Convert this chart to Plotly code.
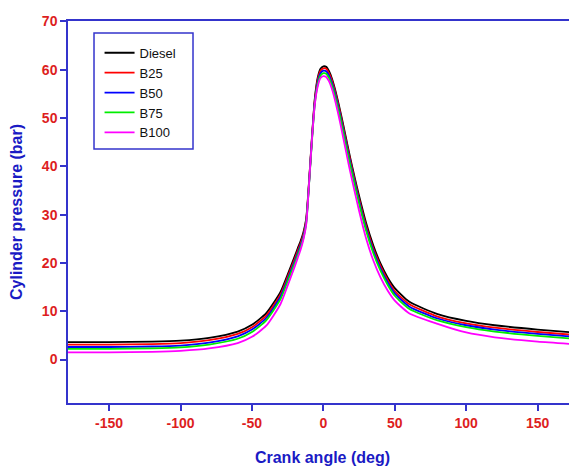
import plotly.graph_objects as go

# Crank angle (deg)
angles = [-180, -150, -120, -100, -80, -60, -50, -40, -30, -25, -20, -18, -16, -14, -12, -10, -8, -6, -4, -2,
          0, 2, 4, 6, 8, 10, 12, 14, 16, 18, 20, 22, 25, 30, 35, 40, 45, 50, 60, 80, 100, 120, 150, 180]

# Cylinder pressure (bar)
diesel = [3.6, 3.6, 3.7, 3.9, 4.5, 5.8, 7.2, 9.6, 14.0, 17.6, 21.4, 23.0, 24.5, 26.3, 29.2, 37.0, 46.0, 54.0, 58.3, 60.2,
          60.7, 60.6, 59.7, 58.2, 56.2, 53.8, 51.2, 48.5, 45.7, 42.9, 40.2, 37.6, 33.9, 28.2, 23.6, 19.9, 17.0, 14.8, 12.0, 9.4, 8.0, 7.1, 6.2, 5.5]
b25 = [3.1, 3.1, 3.2, 3.4, 4.0, 5.3, 6.7, 9.1, 13.5, 17.1, 20.9, 22.5, 24.0, 25.9, 28.9, 36.8, 45.8, 53.7, 57.9, 59.8,
       60.3, 60.2, 59.3, 57.8, 55.8, 53.4, 50.8, 48.0, 45.2, 42.4, 39.7, 37.1, 33.3, 27.6, 23.0, 19.4, 16.5, 14.2, 11.5, 8.9, 7.5, 6.6, 5.7, 5.0]
b50 = [2.6, 2.6, 2.7, 2.9, 3.5, 4.8, 6.2, 8.6, 13.0, 16.6, 20.4, 22.0, 23.6, 25.5, 28.5, 36.5, 45.5, 53.3, 57.4, 59.3,
       59.8, 59.7, 58.8, 57.3, 55.3, 52.9, 50.3, 47.5, 44.7, 41.9, 39.2, 36.6, 32.8, 27.1, 22.5, 18.9, 16.0, 13.7, 11.0, 8.5, 7.1, 6.2, 5.3, 4.6]
b75 = [2.2, 2.2, 2.3, 2.5, 3.1, 4.3, 5.7, 8.1, 12.5, 16.2, 20.0, 21.6, 23.2, 25.1, 28.2, 36.3, 45.2, 52.9, 56.9, 58.8,
       59.3, 59.2, 58.3, 56.8, 54.8, 52.4, 49.8, 47.0, 44.2, 41.4, 38.7, 36.1, 32.3, 26.6, 22.0, 18.4, 15.5, 13.2, 10.5, 8.1, 6.7, 5.8, 4.9, 4.2]
b100 = [1.5, 1.5, 1.6, 1.8, 2.3, 3.4, 4.7, 7.0, 11.5, 15.3, 19.3, 21.0, 22.7, 24.8, 28.0, 36.5, 45.5, 52.8, 56.5, 58.3,
        58.7, 58.5, 57.6, 56.0, 53.9, 51.4, 48.7, 45.8, 42.9, 40.0, 37.3, 34.7, 30.8, 25.0, 20.5, 17.0, 14.3, 12.2, 9.6, 7.4, 5.6, 4.6, 3.7, 3.1]

series_names = ["Diesel", "B25", "B50", "B75", "B100"]
series_values = [diesel, b25, b50, b75, b100]
series_colors = ["#000000", "#ff0000", "#0000ff", "#00ee00", "#ff00ff"]

x_ticks = [-150, -100, -50, 0, 50, 100, 150]
y_ticks = [0, 10, 20, 30, 40, 50, 60, 70]

AXIS_BLUE = "#3434cc"
TITLE_BLUE = "#1a1ac4"
TICK_RED = "#dd1e1e"
FONT = "Liberation Sans, Arial, sans-serif"

fig = go.Figure()
for name, vals, col in zip(series_names, series_values, series_colors):
    fig.add_trace(go.Scatter(
        x=angles, y=vals, mode="lines", name=name,
        line=dict(color=col, width=1.8, shape="spline", smoothing=0.6),
    ))

# legend frame (drawn separately to get the wider box of the original)
fig.add_shape(type="rect", xref="paper", yref="paper",
              x0=0.0511, x1=0.2456, y0=0.6649, y1=0.9686,
              line=dict(color=AXIS_BLUE, width=1.5), fillcolor="rgba(0,0,0,0)", layer="above")

# page body adds an 8px offset, so the figure is sized to fit the window
fig.update_layout(
    width=569, height=460,
    margin=dict(l=60, r=0, t=13, b=65, autoexpand=False),
    paper_bgcolor="white", plot_bgcolor="white",
    font=dict(family=FONT),
    showlegend=True,
    legend=dict(
        x=0.062, y=0.956, xanchor="left", yanchor="top",
        borderwidth=0, bgcolor="rgba(0,0,0,0)",
        font=dict(family=FONT, size=13, color="#111111"),
        tracegroupgap=0, itemwidth=30,
    ),
    xaxis=dict(
        range=[-178.8, 177.6], tickvals=x_ticks, ticktext=[str(t) for t in x_ticks],
        showgrid=False, zeroline=False, automargin=False,
        showline=True, linecolor=AXIS_BLUE, linewidth=1.5, mirror=True,
        ticks="outside", ticklen=6, tickwidth=1.5, tickcolor=AXIS_BLUE,
        tickfont=dict(family=FONT, size=14, color=TICK_RED, weight="bold"),
        title=dict(text="<b>Crank angle (deg)</b>", font=dict(family=FONT, size=16, color=TITLE_BLUE), standoff=22),
    ),
    yaxis=dict(
        range=[-9, 70.1], tickvals=y_ticks, ticktext=[str(t) for t in y_ticks],
        showgrid=False, zeroline=False, automargin=False,
        showline=True, linecolor=AXIS_BLUE, linewidth=1.5,
        ticks="outside", ticklen=6, tickwidth=1.5, tickcolor=AXIS_BLUE,
        tickfont=dict(family=FONT, size=14, color=TICK_RED, weight="bold"),
        title=dict(text="<b>Cylinder pressure (bar)</b>", font=dict(family=FONT, size=16, color=TITLE_BLUE), standoff=16),
    ),
)

fig.write_html("out.html")
